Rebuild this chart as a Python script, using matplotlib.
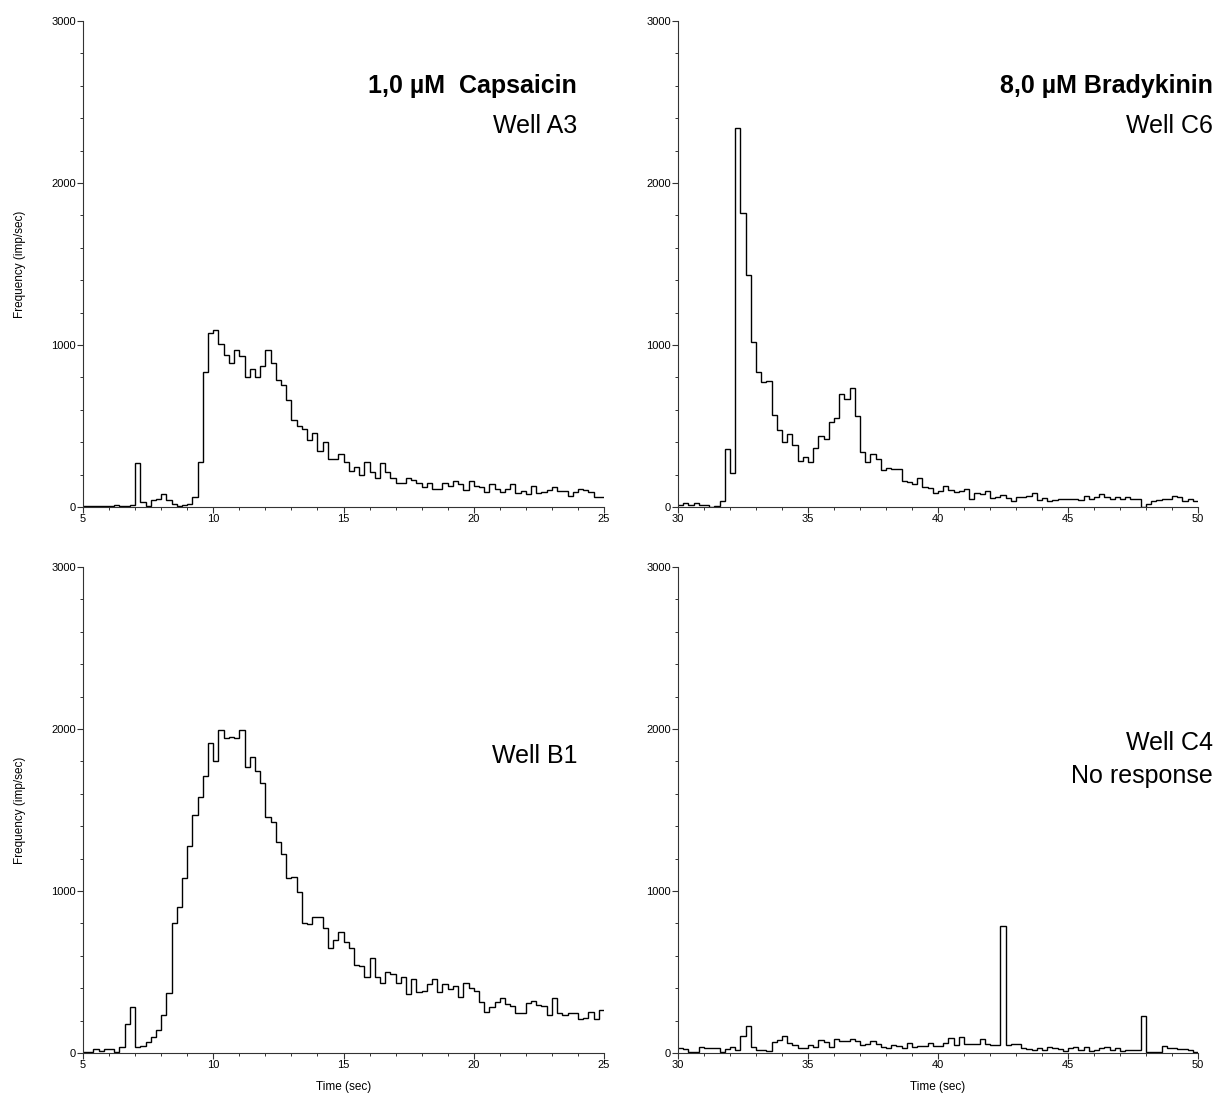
import numpy as np
import matplotlib
matplotlib.use("Agg")
import matplotlib.pyplot as plt
from matplotlib.ticker import MultipleLocator

plt.rcParams['font.family'] = ['Liberation Sans', 'DejaVu Sans']

# Firing-rate histograms, 0.2 s bins (imp/sec)
bin_width = 0.2

well_a3_start = 5.0
well_a3 = [6, 6, 5, 5, 6, 8, 12, 6, 5, 12,
           270, 31, 4, 45, 52, 82, 41, 21, 6, 12,
           21, 62, 279, 836, 1076, 1093, 1008, 941, 887, 969,
           932, 803, 854, 803, 871, 969, 891, 785, 756, 661,
           536, 501, 481, 413, 454, 345, 402, 296, 294, 328,
           279, 222, 245, 197, 275, 217, 177, 273, 214, 177,
           150, 148, 177, 168, 148, 121, 148, 111, 111, 148,
           131, 160, 142, 107, 160, 127, 121, 90, 140, 111,
           90, 111, 140, 86, 101, 80, 131, 86, 94, 107,
           121, 96, 101, 70, 94, 111, 103, 94, 60, 60]

well_c6_start = 30.0
well_c6 = [12, 23, 12, 23, 12, 10, 0, 5, 37, 356,
           212, 2340, 1817, 1430, 1021, 835, 774, 778, 568, 475,
           399, 451, 385, 284, 307, 280, 362, 440, 420, 523,
           551, 700, 665, 737, 564, 342, 280, 325, 294, 228,
           239, 233, 233, 163, 152, 142, 177, 121, 115, 84,
           101, 130, 105, 95, 101, 111, 49, 84, 78, 99,
           58, 60, 76, 53, 39, 60, 64, 70, 84, 43,
           58, 37, 45, 49, 49, 47, 49, 43, 68, 47,
           64, 78, 60, 49, 64, 47, 60, 50, 50, 2,
           19, 37, 43, 50, 47, 68, 60, 39, 47, 37]

well_b1_start = 5.0
well_b1 = [5, 5, 27, 12, 27, 23, 6, 35, 179, 286,
           35, 43, 66, 97, 142, 235, 372, 800, 903, 1078,
           1278, 1469, 1580, 1712, 1916, 1804, 1994, 1944, 1953, 1944,
           1994, 1767, 1829, 1739, 1665, 1455, 1428, 1304, 1228, 1078,
           1085, 992, 805, 796, 838, 838, 772, 646, 698, 745,
           687, 650, 543, 539, 471, 584, 471, 434, 502, 488,
           434, 471, 364, 455, 379, 385, 424, 455, 379, 424,
           395, 416, 344, 434, 403, 383, 317, 255, 282, 317,
           338, 301, 290, 249, 249, 307, 319, 296, 290, 235,
           338, 245, 235, 245, 249, 210, 214, 251, 210, 265]

well_c4_start = 30.0
well_c4 = [31, 25, 8, 8, 35, 29, 29, 33, 4, 25,
           39, 18, 105, 168, 35, 18, 18, 14, 70, 82,
           107, 59, 47, 31, 31, 47, 39, 82, 66, 39,
           88, 76, 76, 86, 72, 51, 55, 72, 55, 39,
           29, 49, 43, 29, 64, 35, 43, 43, 60, 45,
           45, 60, 91, 49, 97, 56, 56, 56, 84, 56,
           47, 47, 784, 47, 58, 53, 31, 23, 19, 29,
           19, 35, 31, 23, 10, 29, 35, 19, 35, 12,
           19, 29, 39, 19, 29, 14, 19, 19, 19, 230,
           6, 8, 8, 43, 29, 29, 23, 23, 19, 6]

y_label = "Frequency (imp/sec)"
x_label = "Time (sec)"

W, H = 1217, 1097
fig = plt.figure(figsize=(W / 100, H / 100), dpi=100)


def px_axes(x0, x1, y_top, y_bot):
    return fig.add_axes([x0 / W, 1 - y_bot / H, (x1 - x0) / W, (y_bot - y_top) / H])


panels = [
    (px_axes(83, 604, 21, 507), well_a3, well_a3_start, (5, 25)),
    (px_axes(678, 1198, 21, 507), well_c6, well_c6_start, (30, 50)),
    (px_axes(83, 604, 567, 1053), well_b1, well_b1_start, (5, 25)),
    (px_axes(678, 1198, 567, 1053), well_c4, well_c4_start, (30, 50)),
]

for ax, vals, start, xlim in panels:
    vals = np.asarray(vals, dtype=float)
    edges = start + bin_width * np.arange(len(vals) + 1)
    ax.stairs(vals, edges, baseline=None, color='black', lw=1.0)
    ax.set_xlim(*xlim)
    ax.set_ylim(0, 3000)
    for s in ('top', 'right'):
        ax.spines[s].set_visible(False)
    for s in ('left', 'bottom'):
        ax.spines[s].set_linewidth(0.8)
        ax.spines[s].set_color('#333333')
    ax.xaxis.set_major_locator(MultipleLocator(5))
    ax.xaxis.set_minor_locator(MultipleLocator(1))
    ax.yaxis.set_major_locator(MultipleLocator(1000))
    ax.yaxis.set_minor_locator(MultipleLocator(200))
    ax.tick_params(which='major', direction='out', length=4, width=0.8,
                   labelsize=8, pad=1, color='#333333')
    ax.tick_params(which='minor', direction='out', length=2.5, width=0.7,
                   color='#333333')

panels[0][0].set_ylabel(y_label, fontsize=8.5, labelpad=18)
panels[2][0].set_ylabel(y_label, fontsize=8.5, labelpad=18)
panels[2][0].set_xlabel(x_label, fontsize=8.5, labelpad=8)
panels[3][0].set_xlabel(x_label, fontsize=8.5, labelpad=8)


def label(x, y, s, bold=False):
    fig.text(x / W, 1 - y / H, s, ha='right', va='baseline', fontsize=18,
             fontweight='bold' if bold else 'normal')


label(577, 93, "1,0 µM  Capsaicin", bold=True)
label(577, 133, "Well A3")
label(1213, 93, "8,0 µM Bradykinin", bold=True)
label(1213, 133, "Well C6")
label(577, 763, "Well B1")
label(1213, 750, "Well C4")
label(1213, 783, "No response")

fig.savefig("out.png", dpi=100)
